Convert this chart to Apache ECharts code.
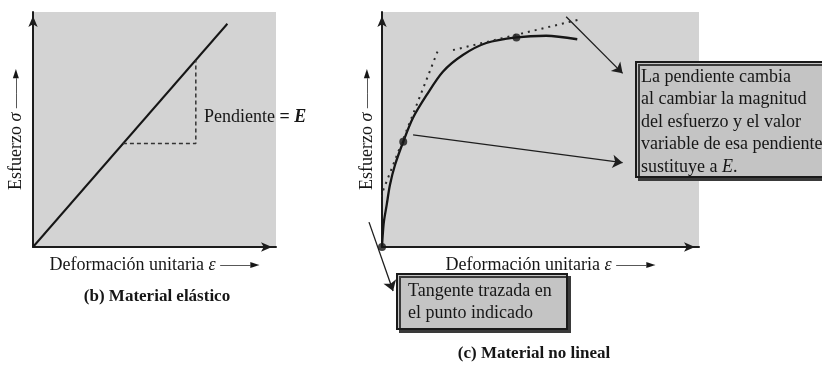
<!DOCTYPE html>
<html><head><meta charset="utf-8">
<script src="https://cdn.jsdelivr.net/npm/echarts@6/dist/echarts.min.js"></script>
<style>html,body{margin:0;padding:0;background:#fff}#c{width:822px;height:367px}</style>
</head><body><div id="c"></div>
<script>
// ---- data (axis units 0..10 on both panels) ----
const elasticLine = [[0, 0], [8.0, 9.5]];
const slopeGuide = [[3.7, 4.4], [6.7, 4.4], [6.7, 7.95]];
const curveX = [0, 0.02, 0.06, 0.148, 0.25, 0.41, 0.67, 0.975, 1.41, 1.92, 2.55, 3.29, 4.24, 5.18, 6.16];
const curveY = [0, 0.45, 1.08, 1.79, 2.64, 3.49, 4.48, 5.49, 6.47, 7.46, 8.17, 8.68, 8.92, 8.99, 8.84];
const markedPoints = [[0, 0], [0.67, 4.48], [4.24, 8.92]];
const tangentLow = [[-0.85, -0.64], [1.77, 8.38]];
const tangentHigh = [[2.24, 8.38], [6.17, 9.66]];
const arrowSegments = [
  [[5.81, 9.80], [7.59, 7.39]],
  [[0.98, 4.77], [7.59, 3.59]],
  [[-0.41, 1.06], [0.35, -1.87]]
];
const titles = ['(b)', 'Material elástico', '(c)', 'Material no lineal'];
const xName = 'Deformación unitaria';
const yName = 'Esfuerzo';
const noteRight = ['La pendiente cambia', 'al cambiar la magnitud', 'del esfuerzo y el valor', 'variable de esa pendiente', 'sustituye a {i|E}.'];
const noteLow = ['Tangente trazada en', 'el punto indicado'];

const SERIF = '"Liberation Serif", "DejaVu Serif", serif';
const ink = '#161616';
const chart = echarts.init(document.getElementById('c'));

const curveData = curveX.map((x, i) => [x, curveY[i]]);

function axisPair(idx) {
  return {
    type: 'value', min: 0, max: 10, gridIndex: idx,
    axisTick: { show: false }, axisLabel: { show: false }, splitLine: { show: false },
    axisLine: { show: true, onZero: false, lineStyle: { color: '#1c1c1c', width: 2 }, symbol: ['none', 'arrow'], symbolSize: [7, 11], symbolOffset: [0, -4] },
    nameTextStyle: { fontFamily: SERIF, fontSize: 18, color: ink,
      rich: { i: { fontFamily: SERIF, fontStyle: 'italic', fontSize: 18, color: ink },
              ln: { fontFamily: SERIF, fontSize: 15, color: ink },
              ar: { fontFamily: 'DejaVu Sans', fontSize: 12, color: ink } } }
  };
}

const xAxes = [0, 1].map(i => {
  const a = axisPair(i);
  a.name = xName + ' {i|ε} {ln|——}{ar|►}';
  a.nameLocation = 'middle';
  a.nameGap = 9;
  if (i === 1) a.nameTextStyle = Object.assign({}, a.nameTextStyle, { padding: [0, 0, 0, 20] });
  return a;
});
const yAxes = [0, 1].map(i => {
  const a = axisPair(i);
  a.name = yName + ' {i|σ} {ln|——}{ar|►}';
  a.nameLocation = 'middle';
  a.nameRotate = 90;
  a.nameGap = i === 0 ? 8 : 6;
  return a;
});

const titleRich = { b: { font: 'bold 17px ' + SERIF, fill: ink } };

const option = {
  backgroundColor: '#ffffff',
  animation: false,
  grid: [
    { left: 33, top: 12, width: 243, height: 235, show: true, backgroundColor: '#d3d3d3', borderWidth: 0 },
    { left: 382, top: 12, width: 317, height: 235, show: true, backgroundColor: '#d3d3d3', borderWidth: 0 }
  ],
  xAxis: xAxes,
  yAxis: yAxes,
  series: [
    { type: 'line', xAxisIndex: 0, yAxisIndex: 0, data: elasticLine, showSymbol: false, lineStyle: { color: ink, width: 2 } },
    { type: 'line', xAxisIndex: 0, yAxisIndex: 0, data: slopeGuide, showSymbol: false, lineStyle: { color: '#333', width: 1.5, type: [4, 3] } },
    { type: 'line', xAxisIndex: 1, yAxisIndex: 1, data: curveData, showSymbol: false, smooth: 0.3, lineStyle: { color: ink, width: 2.3 } },
    { type: 'line', xAxisIndex: 1, yAxisIndex: 1, data: tangentLow, showSymbol: false, clip: false, lineStyle: { color: '#2a2a2a', width: 2, type: [2, 5] } },
    { type: 'line', xAxisIndex: 1, yAxisIndex: 1, data: tangentHigh, showSymbol: false, clip: false, lineStyle: { color: '#2a2a2a', width: 2, type: [2, 5] } },
    { type: 'scatter', xAxisIndex: 1, yAxisIndex: 1, data: markedPoints, symbolSize: 8, itemStyle: { color: ink }, clip: false },
    { type: 'lines', coordinateSystem: 'cartesian2d', xAxisIndex: 1, yAxisIndex: 1, clip: false,
      data: arrowSegments.map(s => ({ coords: s })),
      symbol: ['none', 'arrow'], symbolSize: [0, 10],
      lineStyle: { color: '#1e1e1e', width: 1.3, opacity: 1 } }
  ],
  graphic: [
    { type: 'text', x: 204, y: 117, style: { text: 'Pendiente {b|=} {bi|E}', font: '18px ' + SERIF, fill: ink, verticalAlign: 'middle',
      rich: { b: { font: 'bold 18px ' + SERIF, fill: ink }, bi: { font: 'italic bold 18px ' + SERIF, fill: ink } } } },
    { type: 'text', x: 157, y: 297, style: { text: '{b|' + titles[0] + ' ' + titles[1] + '}', font: 'bold 17px ' + SERIF, fill: ink, align: 'center', verticalAlign: 'middle', rich: titleRich } },
    { type: 'text', x: 534, y: 354, style: { text: '{b|' + titles[2] + ' ' + titles[3] + '}', font: 'bold 17px ' + SERIF, fill: ink, align: 'center', verticalAlign: 'middle', rich: titleRich } },
    { type: 'rect', shape: { x: 636, y: 62, width: 200, height: 115 },
      style: { fill: '#c4c4c4', stroke: '#1a1a1a', lineWidth: 2, shadowColor: '#3a3a3a', shadowOffsetX: 3, shadowOffsetY: 3, shadowBlur: 0 } },
    { type: 'text', x: 641, y: 66, style: { text: noteRight.join('\n'), font: '18px ' + SERIF, fill: ink, lineHeight: 22.4, verticalAlign: 'top',
      rich: { i: { font: 'italic 18px ' + SERIF, fill: ink, lineHeight: 22.4 } } } },
    { type: 'rect', shape: { x: 397, y: 274, width: 170, height: 55 },
      style: { fill: '#c4c4c4', stroke: '#1a1a1a', lineWidth: 2, shadowColor: '#3a3a3a', shadowOffsetX: 3, shadowOffsetY: 3, shadowBlur: 0 } },
    { type: 'text', x: 408, y: 280, style: { text: noteLow.join('\n'), font: '18px ' + SERIF, fill: ink, lineHeight: 22, verticalAlign: 'top' } }
  ]
};
chart.setOption(option);
</script>
</body></html>
